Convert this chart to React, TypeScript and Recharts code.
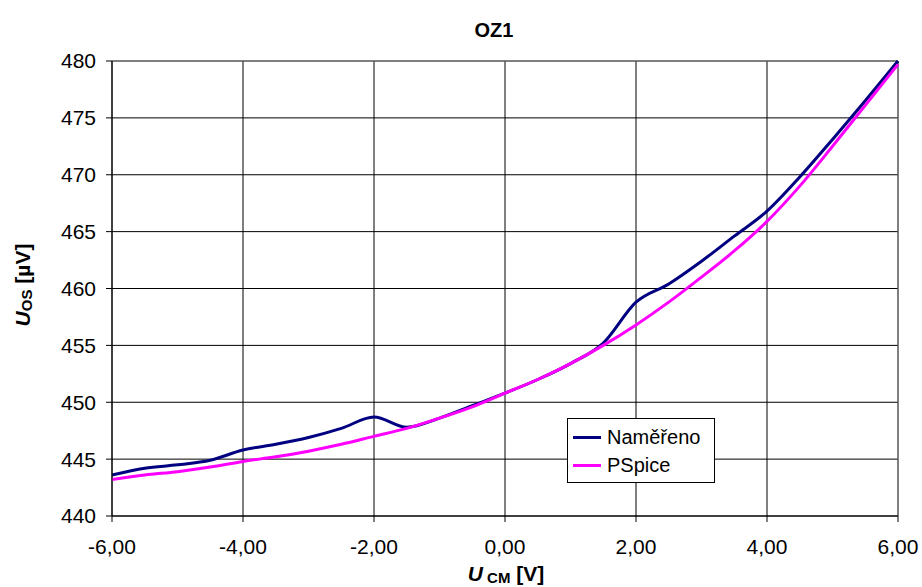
import { LineChart, Line, XAxis, YAxis, CartesianGrid, Label, ReferenceLine } from "recharts";

const ucm = [-6, -5.5, -5, -4.5, -4, -3.5, -3, -2.5, -2, -1.5, -1, -0.5, 0, 0.5, 1, 1.5, 2, 2.5, 3, 3.5, 4, 4.5, 5, 5.5, 6];
const namereno = [443.6, 444.2, 444.5, 444.9, 445.8, 446.3, 446.9, 447.7, 448.7, 447.8, 448.6, 449.7, 450.8, 452.0, 453.4, 455.2, 458.8, 460.4, 462.4, 464.6, 466.8, 469.8, 473.1, 476.5, 480.0];
const pspice = [443.2, 443.6, 443.9, 444.3, 444.8, 445.2, 445.7, 446.3, 447.0, 447.7, 448.6, 449.6, 450.8, 452.0, 453.4, 455.0, 456.8, 458.8, 461.0, 463.3, 465.9, 469.0, 472.5, 476.1, 479.7];
const xTicks = [-6, -4, -2, 0, 2, 4, 6];
const yTicks = [440, 445, 450, 455, 460, 465, 470, 475, 480];
const seriesNames = ["Naměřeno", "PSpice"];
const seriesColors = ["#000080", "#ff00ff"];

const data = ucm.map((x, i) => ({ x, nam: namereno[i], ps: pspice[i] }));

const font = "'Liberation Sans', Arial, sans-serif";
const fmt = (v: number) => v.toFixed(2).replace(".", ",");

function LegendBox() {
  return (
    <div
      style={{
        position: "absolute",
        left: 567,
        top: 418,
        width: 148,
        height: 65,
        border: "1px solid #000",
        background: "#fff",
        boxSizing: "border-box",
        padding: "4px 0 0 5px",
        fontFamily: font,
        fontSize: 20,
        zIndex: 2,
      }}
    >
      {seriesNames.map((name, i) => (
        <div key={name} style={{ display: "flex", alignItems: "center", height: 28 }}>
          <span style={{ display: "inline-block", width: 28, height: 3, background: seriesColors[i], marginRight: 6 }} />
          <span>{name}</span>
        </div>
      ))}
    </div>
  );
}

export default function App() {
  return (
    <div style={{ position: "absolute", left: 0, top: 0, width: 922, height: 587, background: "#fff", fontFamily: font }}>
      <div style={{ position: "absolute", left: 394, width: 200, top: 19, textAlign: "center", fontWeight: "bold", fontSize: 20, zIndex: 2 }}>OZ1</div>
      <LineChart width={922} height={587} data={data} margin={{ top: 61, right: 24, bottom: 31, left: 52 }}>
        <CartesianGrid stroke="#000" strokeWidth={1} />
        <XAxis
          dataKey="x"
          type="number"
          domain={[-6, 6]}
          ticks={xTicks}
          tickFormatter={fmt}
          height={40}
          stroke="#000"
          tickSize={6}
          tickMargin={17}
          tick={{ fill: "#000", fontSize: 21, fontFamily: font }}
        >
          <Label
            content={() => (
              <text x={506} y={581} textAnchor="middle" fontFamily={font} fontWeight="bold" fontSize={21} fill="#000">
                <tspan fontStyle="italic">U</tspan>
                <tspan fontSize={15} dy={2}> CM</tspan>
                <tspan dy={-2}> [V]</tspan>
              </text>
            )}
          />
        </XAxis>
        <YAxis
          type="number"
          domain={[440, 480]}
          ticks={yTicks}
          width={60}
          stroke="#000"
          tickSize={6}
          tickMargin={10}
          tick={{ fill: "#000", fontSize: 21, fontFamily: font }}
        >
          <Label
            content={() => (
              <text x={30} y={285} transform="rotate(-90 30 285)" textAnchor="middle" fontFamily={font} fontWeight="bold" fontSize={21} fill="#000">
                <tspan fontStyle="italic">U</tspan>
                <tspan fontSize={15} dy={2}>OS</tspan>
                <tspan dy={-2}> [µV]</tspan>
              </text>
            )}
          />
        </YAxis>
        <ReferenceLine y={480} stroke="#808080" strokeWidth={1} />
        <ReferenceLine x={6} stroke="#808080" strokeWidth={1} />
        <Line type="monotone" dataKey="nam" name={seriesNames[0]} stroke={seriesColors[0]} strokeWidth={3} dot={false} isAnimationActive={false} />
        <Line type="monotone" dataKey="ps" name={seriesNames[1]} stroke={seriesColors[1]} strokeWidth={3} dot={false} isAnimationActive={false} />
      </LineChart>
      <LegendBox />
    </div>
  );
}
